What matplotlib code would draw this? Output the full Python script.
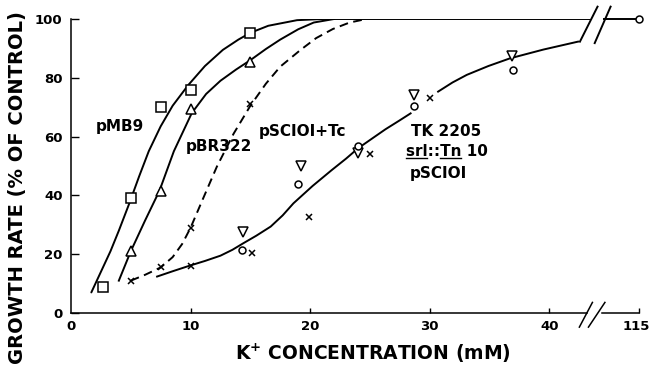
import numpy as np
import matplotlib
matplotlib.use("Agg")
import matplotlib.pyplot as plt
from matplotlib.transforms import ScaledTranslation

plt.rcParams['font.family'] = ['DejaVu Sans']
plt.rcParams['font.weight'] = 'bold'

# ---- data ----
pmb9_x = [2.7, 5, 7.5, 10, 15]
pmb9_y = [9, 39, 70, 76, 95.3]
pbr_x = [5, 7.5, 10, 15]
pbr_y = [21, 41.5, 69.5, 85.5]
tc_x = [5, 7.5, 10, 15]
tc_y = [11, 15.5, 29, 71]
tk_tri_x = [14.4, 19.2, 24, 28.7, 36.9]
tk_tri_y = [27.4, 50, 54.3, 74, 87.4]
tk_circ_x = [14.3, 19, 24, 28.7, 37, 115]
tk_circ_y = [21.4, 43.8, 56.9, 70.5, 82.7, 100]
tk_x_x = [10, 15.1, 19.9, 25, 30]
tk_x_y = [16, 20.3, 32.8, 54.1, 73.2]

c_pmb9_x = [1.7, 2.5, 3.3, 4.0, 4.85, 5.7, 6.5, 7.5, 8.5, 9.8, 11.2, 12.7, 14.0, 15.0, 16.5, 18.9, 21.0, 43.4]
c_pmb9_y = [7, 14, 21, 28, 37, 46.5, 55, 63.5, 70.5, 77.5, 84, 89.5, 93, 95.3, 97.7, 99.6, 100, 100]
c_pbr_x = [4.0, 5.0, 6.2, 7.4, 8.6, 10.1, 11.3, 12.5, 13.8, 15.0, 16.3, 17.5, 19.0, 20.3, 22.0]
c_pbr_y = [11, 21, 31.5, 41.6, 55, 68, 74.5, 79, 82.8, 86, 89.8, 93, 96.5, 98.8, 100]
c_tc_x = [5.0, 6.2, 7.5, 8.5, 9.3, 10.0, 11.0, 12.2, 13.6, 15.0, 16.3, 17.5, 19.2, 20.5, 21.9, 23.3, 24.7]
c_tc_y = [11, 13, 15.5, 19, 23.5, 29, 38.5, 49.8, 61, 70.5, 78, 83.8, 89.5, 93.5, 96.6, 98.8, 100]
c_tk_x = [7.2, 8.5, 10.0, 11.2, 12.5, 13.5, 14.4, 15.5, 16.7, 17.7, 18.6, 20.2, 21.8, 23.0, 24.0, 25.2, 26.3, 27.4, 28.4,
          np.nan, 30.7, 31.9, 33.1, 34.9, 36.7, 39.5, 42.4]
c_tk_y = [12.4, 14.2, 16.2, 17.7, 19.5, 21.5, 23.7, 26.3, 29.4, 33.2, 37.3, 43.2, 48.6, 52.5, 56, 59.4, 62.5, 65.3, 67.9,
          np.nan, 75.3, 78.4, 81, 84, 86.6, 89.6, 92.3]

xticks = [0, 10, 20, 30, 40, 115]
xtick_labels = ['0', '10', '20', '30', '40', '115']
yticks = [0, 20, 40, 60, 80, 100]


def fwd(x):
    x = np.asarray(x, dtype=float)
    return np.where(x <= 44, x, 44 + (x - 44) * 3.5 / 71)


def inv(u):
    u = np.asarray(u, dtype=float)
    return np.where(u <= 44, u, 44 + (u - 44) * 71 / 3.5)


fig = plt.figure(figsize=(6.52, 3.77), dpi=100)
ax = fig.add_axes([71 / 652, 1 - 313 / 377, 568 / 652, 294 / 377])
ax.set_xscale('function', functions=(fwd, inv))
ax.set_xlim(0, 115)
ax.set_ylim(0, 100)

lw = 1.4
k = 'black'
ax.plot(c_pmb9_x, c_pmb9_y, color=k, lw=lw, solid_capstyle='round')
ax.plot(c_pbr_x, c_pbr_y, color=k, lw=lw)
ax.plot(c_tc_x, c_tc_y, color=k, lw=lw, dashes=(4.5, 2.8))
ax.plot(c_tk_x, c_tk_y, color=k, lw=lw)

mk = dict(linestyle='none', mfc='white', mec=k, mew=1.1, clip_on=False, zorder=5)
ax.plot(pmb9_x, pmb9_y, marker='s', ms=6.8, **mk)
ax.plot(pbr_x, pbr_y, marker='^', ms=7, **mk)
ax.plot(tc_x, tc_y, marker='x', ms=4.5, **mk)
ax.plot(tk_tri_x, tk_tri_y, marker='v', ms=7, **mk)
ax.plot(tk_circ_x, tk_circ_y, marker='o', ms=5, **mk)
ax.plot(tk_x_x, tk_x_y, marker='x', ms=4.5, **mk)

# axis breaks and broken lines (axes-fraction x, data y)
bt = ax.get_yaxis_transform()
dec = dict(color=k, lw=lw, transform=bt, clip_on=False)
ax.plot([0.939, 1.0], [100, 100], **dec)                 # top line after break
ax.plot([0.896, 0.927], [92.3, 104.2], **dec)             # break slash 1 (top)
ax.plot([0.922, 0.950], [91.8, 104.2], **dec)             # break slash 2 (top)
ax.plot([0.0, 0.908], [0, 0], color=k, lw=1.1, transform=bt, clip_on=False)
ax.plot([0.934, 1.0], [0, 0], color=k, lw=1.1, transform=bt, clip_on=False)
ax.plot([0.895, 0.918], [-4.8, 3.6], color=k, lw=1.1, transform=bt, clip_on=False)
ax.plot([0.911, 0.940], [-4.8, 3.6], color=k, lw=1.1, transform=bt, clip_on=False)

for s in ['top', 'right', 'bottom']:
    ax.spines[s].set_visible(False)
ax.spines['left'].set_linewidth(1.1)

ax.set_xticks(xticks)
ax.set_xticklabels(xtick_labels)
ax.set_yticks(yticks)
ax.tick_params(axis='x', direction='in', length=3.5, width=1.0, pad=5, labelsize=9.5)
ax.tick_params(axis='y', direction='in', length=6, width=1.0, pad=6, labelsize=9.5)
for t in ax.get_xticklabels() + ax.get_yticklabels():
    t.set_fontweight('bold')
lab115 = ax.xaxis.get_major_ticks()[-1].label1
lab115.set_transform(lab115.get_transform() + ScaledTranslation(-2.5 / 100, 0, fig.dpi_scale_trans))
ax.xaxis.get_major_ticks()[0].tick1line.set_visible(False)

fig.text(235 / 652, 1 - 360 / 377, 'K$^{+}$ CONCENTRATION (mM)', fontsize=13.5, fontweight='bold',
         ha='left', va='baseline')
fig.text(18 / 652, 1 - 188 / 377, 'GROWTH RATE (% OF CONTROL)', fontsize=14, fontweight='bold',
         rotation=90, ha='center', va='center')

tf = dict(fontsize=11, fontweight='bold', ha='center', va='center')
ax.text(4.1, 63.3, 'pMB9', **tf)
ax.text(12.4, 56.5, 'pBR322', **tf)
ax.text(19.4, 61.9, 'pSCIOI+Tc', **tf)
ax.text(31.4, 61.9, 'TK 2205', **tf)
ax.text(30.7, 47.3, 'pSCIOI', **tf)

# "srl::Tn 10" with underlined srl and Tn
t_full = ax.text(31.4, 55.1, 'srl::Tn 10', **tf)
fig.canvas.draw()
r = fig.canvas.get_renderer()
bb = t_full.get_window_extent(r)


def width_of(s):
    tt = ax.text(0, 0, s, fontsize=11, fontweight='bold')
    w = tt.get_window_extent(r).width
    tt.remove()
    return w


x0 = bb.x0
w_srl = width_of('srl')
w_pre = width_of('srl::')
w_tn = width_of('srl::Tn')
yline = bb.y0 + 0.5
to_fig = fig.transFigure.inverted()
for a, b in [(x0, x0 + w_srl), (x0 + w_pre, x0 + w_tn)]:
    (fa, fy), (fb, _) = to_fig.transform([(a, yline), (b, yline)])
    fig.add_artist(plt.Line2D([fa, fb], [fy, fy], color=k, lw=1.0, transform=fig.transFigure))

fig.savefig('out.png', dpi=100)
